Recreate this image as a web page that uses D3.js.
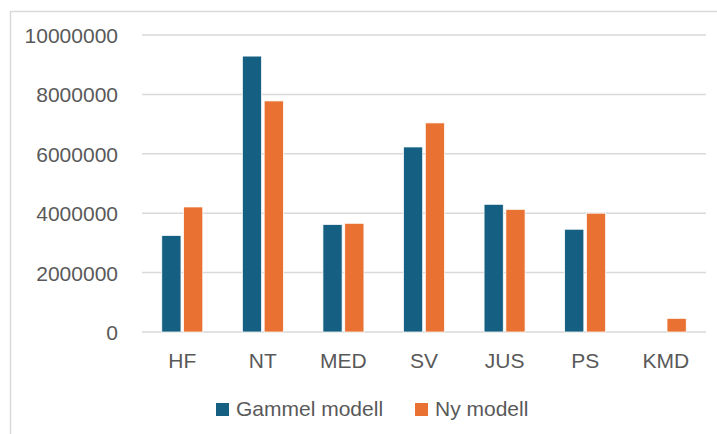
<!DOCTYPE html>
<html>
<head>
<meta charset="utf-8">
<script src="https://cdn.jsdelivr.net/npm/d3@7"></script>
<style>
  body { margin: 0; background: #fff; }
  text { font-family: "Liberation Sans", Arial, sans-serif; fill: #595959; }
</style>
</head>
<body>
<script>
// data
const categories = ['HF', 'NT', 'MED', 'SV', 'JUS', 'PS', 'KMD'];
const seriesNames = ['Gammel modell', 'Ny modell'];
const gammel = [3250000, 9290000, 3620000, 6230000, 4300000, 3460000, 0];
const ny = [4210000, 7780000, 3660000, 7040000, 4130000, 4000000, 460000];
const yTicks = [0, 2000000, 4000000, 6000000, 8000000, 10000000];
const colors = ['#156082', '#E97132'];

const W = 717, H = 434;
const svg = d3.select('body').append('svg').attr('width', W).attr('height', H);

// outer chart frame, runs off the right and bottom edge
svg.append('rect')
  .attr('x', 10.5).attr('y', 11.5).attr('width', W).attr('height', H)
  .style('fill', 'none').style('stroke', '#d9d9d9').style('stroke-width', 1.5);

const plotL = 142, plotR = 706, plotT = 35, plotB = 332;

const x = d3.scaleBand().domain(categories).range([plotL, plotR]);
const y = d3.scaleLinear().domain([0, 10000000]).range([plotB, plotT]);
const inner = d3.scaleBand().domain([0, 1]).range([-20.5, 20.5]).paddingInner(0.12);

// gridlines
svg.append('g').selectAll('line').data(yTicks).enter().append('line')
  .attr('x1', plotL).attr('x2', plotR)
  .attr('y1', d => y(d)).attr('y2', d => y(d))
  .style('stroke', '#d9d9d9').style('stroke-width', 1.5);

// y axis labels
const yAxis = svg.append('g').attr('transform', `translate(${plotL - 24},0)`)
  .call(d3.axisLeft(y).tickValues(yTicks).tickSize(0).tickPadding(0).tickFormat(d3.format('d')));
yAxis.select('.domain').remove();
yAxis.selectAll('text').style('font-size', '21px').style('fill', '#595959').attr('dy', '0.36em');

// x axis labels
const xAxis = svg.append('g').attr('transform', `translate(0,${plotB})`)
  .call(d3.axisBottom(x).tickSize(0).tickPadding(21));
xAxis.select('.domain').remove();
xAxis.selectAll('text').style('font-size', '21px').style('fill', '#595959');

// bars
const series = [gammel, ny];
series.forEach((vals, s) => {
  svg.append('g').selectAll('rect').data(vals).enter().append('rect')
    .attr('x', (d, i) => x(categories[i]) + x.bandwidth() / 2 + inner(s))
    .attr('y', d => y(d))
    .attr('width', inner.bandwidth())
    .attr('height', d => plotB - y(d))
    .style('fill', colors[s])
    .style('stroke', d => d > 0 ? '#fff' : 'none')
    .style('stroke-width', 0.75);
});

// legend
const legendX = [216, 415];
const lg = svg.append('g');
seriesNames.forEach((name, s) => {
  lg.append('rect').attr('x', legendX[s]).attr('y', 403).attr('width', 13).attr('height', 13)
    .style('fill', colors[s]);
  lg.append('text').attr('x', legendX[s] + 20).attr('y', 416)
    .style('font-size', '21px').text(name);
});
</script>
</body>
</html>
